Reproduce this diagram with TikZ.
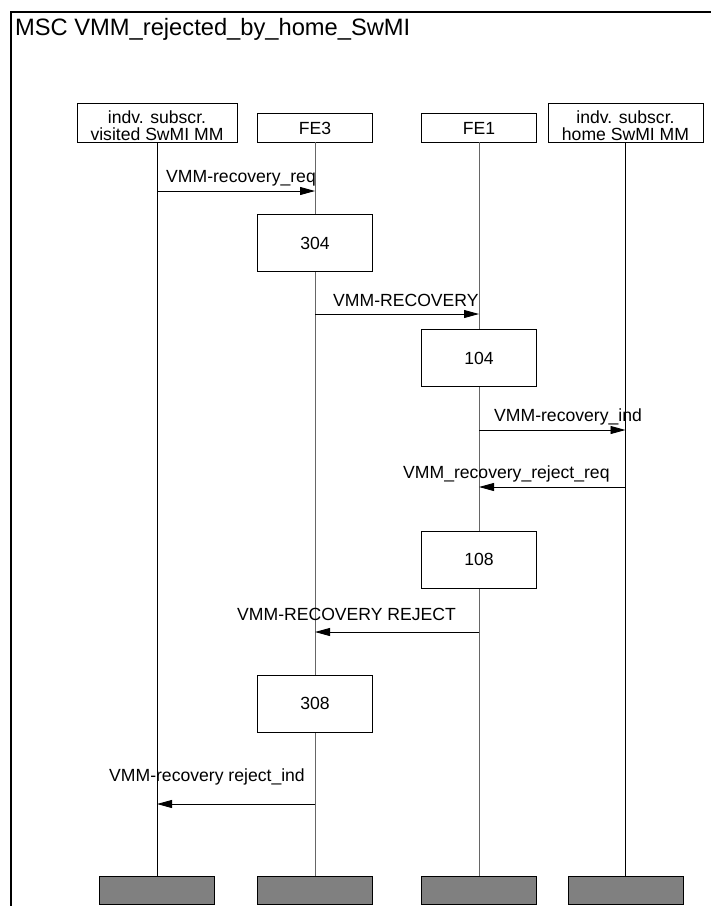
\documentclass[tikz,border=0pt]{standalone}
\usepackage{fontspec}
\setmainfont{Liberation Sans}
\usetikzlibrary{arrows.meta}
\begin{document}
\begin{tikzpicture}[x=1pt,y=-1pt,
  lbl/.style={font=\fontsize{17.6}{17.6}\selectfont, inner sep=0pt, anchor=base west},
  ctr/.style={font=\fontsize{17.6}{17.6}\selectfont, inner sep=0pt, anchor=base},
  hbox/.style={draw=black, line width=0.9pt, fill=white, inner sep=0pt},
  abox/.style={draw=black, line width=0.9pt, fill=white, inner sep=0pt,
    minimum width=115pt, minimum height=57pt, font=\fontsize{17.6}{17.6}\selectfont},
  ebox/.style={draw=black, line width=0.9pt, fill=black!50, inner sep=0pt,
    minimum width=115pt, minimum height=28pt},
  life/.style={line width=0.9pt, draw=black},
  lifeg/.style={line width=0.9pt, draw=black!60},
  msg/.style={line width=0.9pt, draw=black, -{Triangle[length=15pt,width=8pt]}}]
\useasboundingbox (0,0) rectangle (711,906);
% frame
\draw[line width=2pt] (711,12) -- (11,12) -- (11,906);
\node[font=\fontsize{23.7}{23.7}\selectfont, inner sep=0pt, anchor=base west] (title) at (15,35) {MSC VMM\_rejected\_by\_home\_SwMI};
% end boxes
\node[ebox] (e1) at (156.5,890) {};
\node[ebox] (e2) at (315,890) {};
\node[ebox] (e3) at (478.5,890) {};
\node[ebox] (e4) at (625.5,890) {};
% header boxes
\node[hbox, minimum width=160pt, minimum height=39pt] (h1) at (157,122.5) {};
\node[hbox, minimum width=115pt, minimum height=29pt] (h2) at (315,127.5) {};
\node[hbox, minimum width=115pt, minimum height=29pt] (h3) at (479,127.5) {};
\node[hbox, minimum width=155pt, minimum height=39pt] (h4) at (625.5,122.5) {};
\node[ctr] (h1a) at (157,123) {indv. subscr.};
\node[ctr] (h1b) at (157,140) {visited SwMI MM};
\node[ctr] (h2t) at (315,134) {FE3};
\node[ctr] (h3t) at (479,134) {FE1};
\node[ctr] (h4a) at (625.5,123) {indv. subscr.};
\node[ctr] (h4b) at (625.5,140) {home SwMI MM};
% lifelines
\draw[life] (h1.south) -- (h1.south |- e1.north);
\draw[lifeg] (h2.south) -- (e2.north);
\draw[lifeg] (h3.south) -- (h3.south |- e3.north);
\draw[life] (h4.south) -- (e4.north);
% action boxes
\node[abox] (a304) at (315,243) {304};
\node[abox] (a104) at (479,358) {104};
\node[abox] (a108) at (479,559.5) {108};
\node[abox] (a308) at (315,703.5) {308};
% messages
\coordinate (m1s) at (157,191); \coordinate (m1e) at (315,191);
\draw[msg] (m1s) -- (m1e);
\node[lbl] (l1) at (166,182) {VMM-recovery\_req};
\coordinate (m2s) at (315,314); \coordinate (m2e) at (479,314);
\draw[msg] (m2s) -- (m2e);
\node[lbl] (l2) at (333,306) {VMM-RECOVERY};
\coordinate (m3s) at (479,430); \coordinate (m3e) at (625.5,430);
\draw[msg] (m3s) -- (m3e);
\node[lbl] (l3) at (494,421) {VMM-recovery\_ind};
\coordinate (m4s) at (625.5,487); \coordinate (m4e) at (479,487);
\draw[msg] (m4s) -- (m4e);
\node[lbl] (l4) at (403,478) {VMM\_recovery\_reject\_req};
\coordinate (m5s) at (479,632); \coordinate (m5e) at (315,632);
\draw[msg] (m5s) -- (m5e);
\node[lbl] (l5) at (237,620) {VMM-RECOVERY REJECT};
\coordinate (m6s) at (315,804); \coordinate (m6e) at (157,804);
\draw[msg] (m6s) -- (m6e);
\node[lbl] (l6) at (109,781) {VMM-recovery reject\_ind};
\end{tikzpicture}
\end{document}
